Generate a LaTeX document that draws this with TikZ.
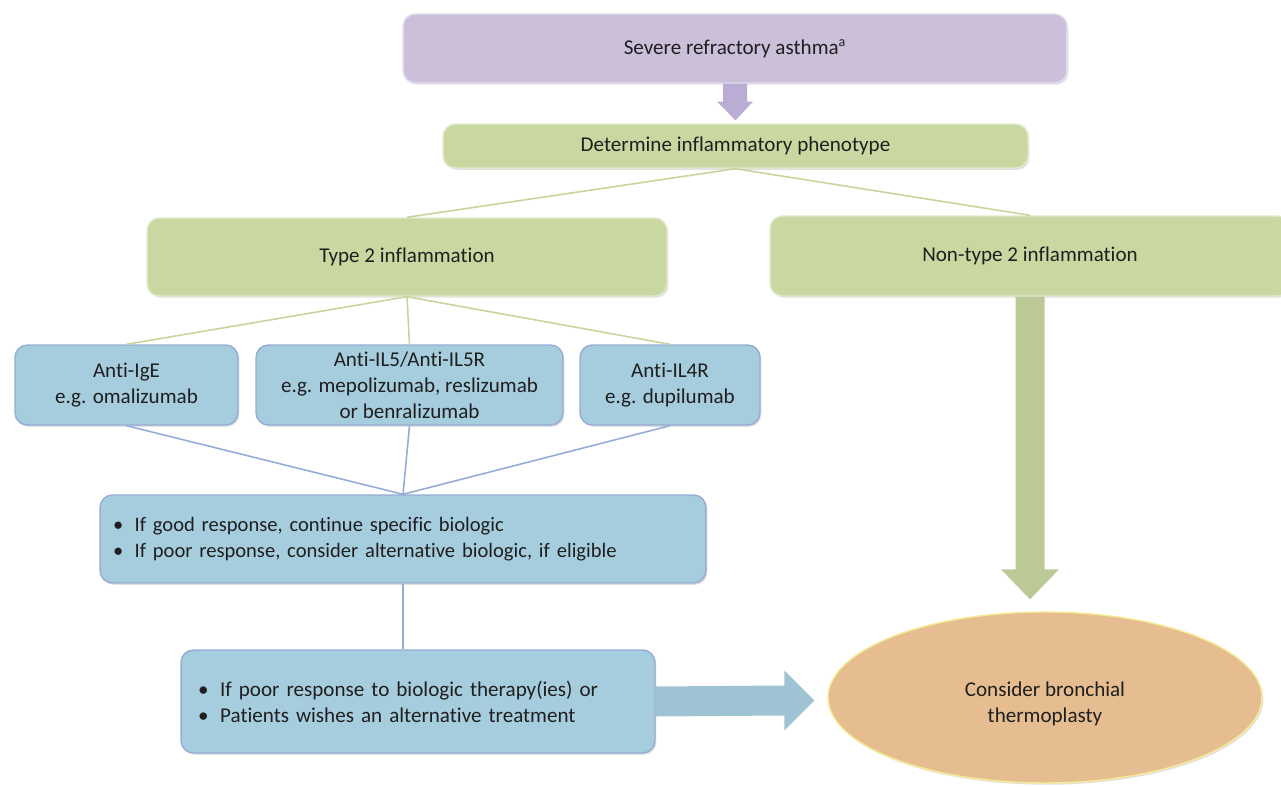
\documentclass[tikz,border=0pt]{standalone}
\usepackage{fontspec}
\setmainfont{Carlito}[Ligatures=NoCommon]
\usetikzlibrary{calc,shapes.geometric,shadows}

\definecolor{srapurple}{RGB}{203,191,218}
\definecolor{sragreen}{RGB}{201,216,161}
\definecolor{srablue}{RGB}{166,205,222}
\definecolor{sratan}{RGB}{230,189,145}
\definecolor{greenedge}{RGB}{196,214,155}
\definecolor{blueedge}{RGB}{150,172,214}
\definecolor{purplearrow}{RGB}{186,172,210}

\begin{document}
\begin{tikzpicture}[x=0.02cm,y=-0.02cm,
    every node/.style={font=\fontsize{12}{14.7}\selectfont, text=black!88},
    box/.style={rounded corners=7pt, line width=0.8pt, inner sep=0pt, align=center,
      drop shadow={shadow xshift=0.8pt, shadow yshift=-1pt, opacity=0.25}},
    purplebox/.style={box, fill=srapurple, draw=srapurple!55!white},
    greenbox/.style={box, fill=sragreen, draw=sragreen!55!white},
    bluebox/.style={box, fill=srablue, draw=blueedge},
    greenline/.style={draw=greenedge, line width=0.9pt},
    blueline/.style={draw=blueedge, line width=0.9pt}
  ]
    \useasboundingbox (0,0) rectangle (1281,787);

    % boxes
    \node[purplebox, minimum width=13.28cm, minimum height=1.38cm] (severe) at (735,48.5)
      {Severe refractory asthma\textsuperscript{a}};
    \node[greenbox, minimum width=11.7cm, minimum height=0.88cm] (pheno) at (735.5,146)
      {Determine inflammatory phenotype};
    \node[greenbox, minimum width=10.4cm, minimum height=1.56cm] (type2) at (407,257)
      {Type 2 inflammation};
    \node[greenbox, minimum width=10.4cm, minimum height=1.6cm] (nontype2) at (1030,256)
      {Non-type 2 inflammation};
    \node[bluebox, minimum width=4.46cm, minimum height=1.6cm] (ige) at (126.5,385)
      {Anti-IgE\\e.g. omalizumab};
    \node[bluebox, minimum width=6.14cm, minimum height=1.6cm] (il5) at (409.5,385)
      {Anti-IL5/Anti-IL5R\\e.g. mepolizumab, reslizumab\\or benralizumab};
    \node[bluebox, minimum width=3.6cm, minimum height=1.6cm] (il4r) at (670,385)
      {Anti-IL4R\\e.g. dupilumab};
    \node[bluebox, minimum width=12.12cm, minimum height=1.76cm, align=left, text width=11.6cm,
          font=\fontsize{11.7}{14.7}\selectfont] (resp) at (403,539)
      {\textbullet\hspace{0.55em}If good response, continue specific biologic\\
       \textbullet\hspace{0.55em}If poor response, consider alternative biologic, if eligible};
    \node[bluebox, minimum width=9.48cm, minimum height=2.06cm, align=left, text width=8.8cm] (poor) at (418,701.5)
      {\textbullet\hspace{0.55em}If poor response to biologic therapy(ies) or\\
       \textbullet\hspace{0.55em}Patients wishes an alternative treatment};
    \node[ellipse, fill=sratan, draw=sratan!50!yellow!60!white, line width=0.8pt, inner sep=0pt,
          minimum width=8.68cm, minimum height=3.42cm, align=center,
          drop shadow={shadow xshift=0.8pt, shadow yshift=-1pt, opacity=0.25}] (thermo) at (1045,697.5)
      {\rule{0pt}{16pt}Consider bronchial\\thermoplasty};

    % thin connectors
    \draw[greenline] (pheno.south) -- (type2.north);
    \draw[greenline] (pheno.south) -- (nontype2.north);
    \foreach \n in {ige,il5,il4r} {\draw[greenline] (type2.south) -- (\n.north);};
    \foreach \n in {ige,il5,il4r} {\draw[blueline] (\n.south) -- (resp.north);};
    \draw[blueline] (resp.south) -- (resp.south |- poor.north);

    % block arrows
    \fill[purplearrow] ($(severe.south)+(-12,0)$) -- ($(severe.south)+(-12,18)$)
      -- ($(severe.south)+(-18,18)$) -- ($(pheno.north)+(0,-3)$) -- ($(severe.south)+(18,18)$)
      -- ($(severe.south)+(12,18)$) -- ($(severe.south)+(12,0)$) -- cycle;
    \coordinate (gtip) at ($(nontype2.south |- thermo.north)+(0,-12)$);
    \fill[sragreen!93!black] ($(nontype2.south)+(-14.5,0)$) -- ($(gtip)+(-14.5,-30)$)
      -- ($(gtip)+(-29,-30)$) -- (gtip) -- ($(gtip)+(29,-30)$)
      -- ($(gtip)+(14.5,-30)$) -- ($(nontype2.south)+(14.5,0)$) -- cycle;
    \coordinate (btip) at ($(thermo.west)+(-13,3)$);
    \fill[srablue!95!black] ($(poor.east)+(0,-15)$) -- ($(btip)+(-30,-15)$)
      -- ($(btip)+(-30,-30)$) -- (btip) -- ($(btip)+(-30,30)$)
      -- ($(btip)+(-30,15)$) -- ($(poor.east)+(0,15)$) -- cycle;
\end{tikzpicture}
\end{document}
